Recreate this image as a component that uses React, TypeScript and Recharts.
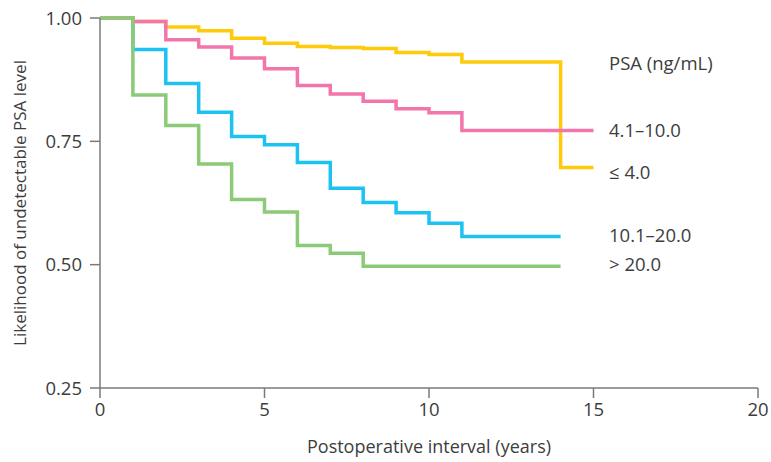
import { LineChart, Line, XAxis, YAxis, Label } from "recharts";

// Kaplan-Meier step values (years -> proportion undetectable)
const yearsLong = [0, 1, 2, 3, 4, 5, 6, 7, 8, 9, 10, 11, 14, 15];
const yearsShort = [0, 1, 2, 3, 4, 5, 6, 7, 8, 9, 10, 11, 14];
const yearsGreen = [0, 1, 2, 3, 4, 5, 6, 7, 8, 14];

const psaUpTo4 = [1.0, 0.993, 0.982, 0.974, 0.959, 0.949, 0.942, 0.94, 0.938, 0.93, 0.926, 0.911, 0.697, 0.697];
const psa4to10 = [1.0, 0.993, 0.956, 0.941, 0.919, 0.897, 0.863, 0.846, 0.831, 0.816, 0.808, 0.772, 0.772, 0.772];
const psa10to20 = [1.0, 0.936, 0.867, 0.809, 0.76, 0.743, 0.707, 0.655, 0.626, 0.605, 0.584, 0.557, 0.557];
const psaOver20 = [1.0, 0.844, 0.782, 0.704, 0.632, 0.607, 0.539, 0.523, 0.497, 0.497];

const xTicks = [0, 5, 10, 15, 20];
const yTicks = [0.25, 0.5, 0.75, 1.0];

const legendTitle = "PSA (ng/mL)";
const legendLabels = ["4.1–10.0", "≤ 4.0", "10.1–20.0", "> 20.0"];

const toRows = (xs: number[], ys: number[]) => xs.map((t, i) => ({ t, v: ys[i] }));

const FONT = "'Open Sans', 'Noto Sans', sans-serif";
const TEXT = "#3d3d3d";
const AXIS = "#7a7a7a";

export default function App() {
  const series = [
    { key: "b", data: toRows(yearsShort, psa10to20), color: "#1cc3f2" },
    { key: "y", data: toRows(yearsLong, psaUpTo4), color: "#ffca0a" },
    { key: "p", data: toRows(yearsLong, psa4to10), color: "#f275ac" },
    { key: "g", data: toRows(yearsGreen, psaOver20), color: "#8bcb78" },
  ];
  const legendY = [129, 171, 234, 263];

  return (
    <div style={{ position: "absolute", left: 0, top: 0, fontFamily: FONT }}>
      <LineChart width={771} height={462} margin={{ top: 18, right: 13, left: 0, bottom: 0 }}>
        <XAxis
          dataKey="t"
          type="number"
          domain={[0, 20]}
          ticks={xTicks}
          allowDuplicatedCategory={false}
          height={74}
          stroke={AXIS}
          strokeWidth={1.5}
          tickSize={10}
          tick={{ fill: TEXT, fontSize: 18.5, fontFamily: FONT }}
          tickMargin={5}
        >
          <Label
            value="Postoperative interval (years)"
            position="insideBottom"
            offset={9}
            style={{ fill: TEXT, fontSize: 18, fontFamily: FONT }}
          />
        </XAxis>
        <YAxis
          type="number"
          domain={[0.25, 1]}
          ticks={yTicks}
          width={100}
          stroke={AXIS}
          strokeWidth={1.5}
          tickSize={10}
          tickMargin={8}
          tickFormatter={(v: number) => v.toFixed(2)}
          tick={{ fill: TEXT, fontSize: 18.5, fontFamily: FONT }}
        >
          <Label
            value="Likelihood of undetectable PSA level"
            angle={-90}
            position="insideLeft"
            offset={20}
            style={{ textAnchor: "middle", fill: TEXT, fontSize: 17, fontFamily: FONT }}
          />
        </YAxis>
        {series.map((s) => (
          <Line
            key={s.key}
            data={s.data}
            dataKey="v"
            type="stepAfter"
            stroke={s.color}
            strokeWidth={3.5}
            dot={false}
            activeDot={false}
            isAnimationActive={false}
          />
        ))}
        <text x={609} y={62} dominantBaseline="central" fill={TEXT} fontSize={18.5} fontFamily={FONT}>
          {legendTitle}
        </text>
        {legendLabels.map((l, i) => (
          <text key={l} x={609} y={legendY[i]} dominantBaseline="central" fill={TEXT} fontSize={18.5} fontFamily={FONT}>
            {l}
          </text>
        ))}
      </LineChart>
    </div>
  );
}
